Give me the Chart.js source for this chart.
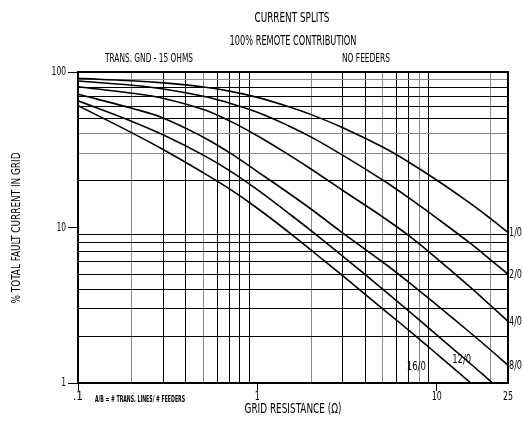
<!DOCTYPE html>
<html>
<head>
  <meta charset="UTF-8">
  <title>Current Splits</title>
  <script src="https://cdn.jsdelivr.net/npm/chart.js"></script>
  <style>
    body { margin: 0; background: #fff; }
    canvas { display: block; }
  </style>
</head>
<body>
  <canvas id="splitChart" width="523" height="426"></canvas>
  <script>
    // grid resistance (ohm) where each curve was read
    const resistance = [0.1, 0.2, 0.3, 0.5, 0.7, 1, 1.5, 2, 3, 5, 7, 10, 15, 20, 25];
    const resistance12 = [0.1, 0.2, 0.3, 0.5, 0.7, 1, 1.5, 2, 3, 5, 7, 10, 15, 20.5];
    const resistance16 = [0.1, 0.2, 0.3, 0.5, 0.7, 1, 1.5, 2, 3, 5, 7, 10, 15.5];

    // % total fault current in grid, one list per A/B ratio
    const pct1_0  = [91, 87.9, 85.1, 80.1, 75.3, 68.7, 59.8, 53.2, 43.8, 32.9, 26.3, 20.2, 14.6, 11.4, 9.3];
    const pct2_0  = [87.5, 82.2, 77.7, 69.8, 63.1, 55.1, 45.0, 38.1, 29.1, 20.2, 15.5, 11.5, 8.1, 6.2, 5.0];
    const pct4_0  = [80.4, 73.0, 67.6, 57.4, 48.5, 38.9, 29.3, 23.7, 17.3, 11.7, 8.86, 6.33, 4.24, 3.15, 2.49];
    const pct8_0  = [71.9, 58.4, 50.5, 38.1, 30.3, 22.9, 16.6, 13.1, 9.2, 6.0, 4.44, 3.18, 2.16, 1.63, 1.30];
    const pct12_0 = [65.3, 48.1, 39.3, 29.2, 23.2, 17.5, 12.3, 9.52, 6.53, 4.02, 2.90, 2.04, 1.37, 1.0];
    const pct16_0 = [60.7, 40.6, 31.6, 22.5, 17.7, 13.3, 9.31, 7.14, 4.88, 3.0, 2.18, 1.54, 1.0];

    const curveNames = ["1/0", "2/0", "4/0", "8/0", "12/0", "16/0"];
    const curveR = [resistance, resistance, resistance, resistance, resistance12, resistance16];
    const curvePct = [pct1_0, pct2_0, pct4_0, pct8_0, pct12_0, pct16_0];
    // where each curve name is written (data coordinates)
    const nameAtR = [25, 25, 25, 25, 13.8, 7.7];
    const nameAtPct = [9.3, 5.0, 2.49, 1.30, 1.41, 1.27];

    const xTicks = [0.1, 0.2, 0.3, 0.4, 0.5, 0.6, 0.7, 0.8, 0.9, 1, 2, 3, 4, 5, 6, 7, 8, 9, 10, 20, 25];
    const xLabels = { 0.1: ".1", 1: "1", 10: "10", 25: "25" };
    const yTicks = [1, 2, 3, 4, 5, 6, 7, 8, 9, 10, 20, 30, 40, 50, 60, 70, 80, 90, 100];
    const yLabels = { 1: "1", 10: "10", 100: "100" };
    const greyX = [0.2, 0.5, 2, 5, 8, 20];
    const greyY = [90, 40, 30];

    const FONT = "'Liberation Sans Narrow', 'DejaVu Sans Condensed', 'Liberation Sans', sans-serif";

    // draws text squeezed to a given width, like the narrow plotter lettering
    function fitText(ctx, text, cx, cy, w, size, rot, weight) {
      ctx.save();
      ctx.font = (weight || "normal") + " " + size + "px " + FONT;
      const m = ctx.measureText(text).width;
      ctx.translate(cx, cy);
      if (rot) ctx.rotate(rot);
      ctx.scale(w / m, 1);
      ctx.textAlign = "center";
      ctx.textBaseline = "middle";
      ctx.fillStyle = "#000";
      ctx.fillText(text, 0, 0);
      ctx.restore();
    }

    const textPlugin = {
      id: "textPlugin",
      afterDraw(chart) {
        const { ctx, chartArea: a, scales } = chart;
        // frame
        ctx.save();
        ctx.strokeStyle = "#000";
        ctx.lineWidth = 2;
        ctx.strokeRect(a.left, a.top, a.right - a.left, a.bottom - a.top);
        ctx.restore();

        fitText(ctx, "CURRENT SPLITS", 292, 18, 75, 14);
        fitText(ctx, "100% REMOTE CONTRIBUTION", 293, 41, 127, 14);
        fitText(ctx, "TRANS. GND - 15 OHMS", 149, 59, 88, 13);
        fitText(ctx, "NO FEEDERS", 366, 59, 48, 13);
        fitText(ctx, "GRID RESISTANCE (\u03A9)", 293, 409, 97, 14);
        fitText(ctx, "% TOTAL FAULT CURRENT IN GRID", 17, 228, 151, 13, -Math.PI / 2);
        fitText(ctx, "A/B = # TRANS. LINES/ # FEEDERS", 140, 400, 90, 8, 0, "bold");

        // tick labels
        Object.keys(xLabels).forEach(v => {
          const t = xLabels[v];
          fitText(ctx, t, scales.x.getPixelForValue(Number(v)), 397, t.length * 5, 12);
        });
        Object.keys(yLabels).forEach(v => {
          const t = yLabels[v];
          fitText(ctx, t, 66 - t.length * 2.4, scales.y.getPixelForValue(Number(v)), t.length * 4.8, 12);
        });

        curveNames.forEach((name, i) => {
          const px = scales.x.getPixelForValue(nameAtR[i]);
          const py = scales.y.getPixelForValue(nameAtPct[i]);
          const w = name.length > 3 ? 19 : 13;
          const cx = i < 4 ? px + 1 + w / 2 : px;
          fitText(ctx, name, cx, py, w, 13);
        });
      }
    };

    const datasets = curveNames.map((name, i) => ({
      label: name,
      data: curveR[i].map((r, j) => ({ x: r, y: curvePct[i][j] })),
      borderColor: "#000",
      borderWidth: 1.6,
      pointRadius: 0,
      fill: false,
      tension: 0.4
    }));

    const ctx = document.getElementById("splitChart").getContext("2d");
    new Chart(ctx, {
      type: "line",
      data: { datasets },
      options: {
        animation: false,
        responsive: false,
        devicePixelRatio: 1,
        layout: { padding: { top: 72, right: 15, bottom: 0, left: 0 } },
        plugins: { legend: { display: false }, tooltip: { enabled: false } },
        scales: {
          x: {
            type: "logarithmic",
            min: 0.1,
            max: 25,
            afterBuildTicks: s => { s.ticks = xTicks.map(v => ({ value: v })); },
            afterFit: s => { s.height = 43; },
            border: { display: false },
            grid: {
              color: c => (xLabels[c.tick.value] ? "rgba(0,0,0,0)" : (greyX.includes(c.tick.value) ? "#8a8a8a" : "#000")),
              tickColor: c => ((c.tick.value === 25 || !xLabels[c.tick.value]) ? "rgba(0,0,0,0)" : "#000"),
              lineWidth: 1,
              tickLength: 8
            },
            ticks: { autoSkip: false, maxRotation: 0, color: "rgba(0,0,0,0)", callback: () => "" }
          },
          y: {
            type: "logarithmic",
            min: 1,
            max: 100,
            afterBuildTicks: s => { s.ticks = yTicks.map(v => ({ value: v })); },
            afterFit: s => { s.width = 78; },
            border: { display: false },
            grid: {
              color: c => (yLabels[c.tick.value] ? "rgba(0,0,0,0)" : (greyY.includes(c.tick.value) ? "#8a8a8a" : "#000")),
              tickColor: c => (yLabels[c.tick.value] ? "#000" : "rgba(0,0,0,0)"),
              lineWidth: 1,
              tickLength: 10
            },
            ticks: { autoSkip: false, color: "rgba(0,0,0,0)", callback: () => "" }
          }
        }
      },
      plugins: [textPlugin]
    });
  </script>
</body>
</html>
